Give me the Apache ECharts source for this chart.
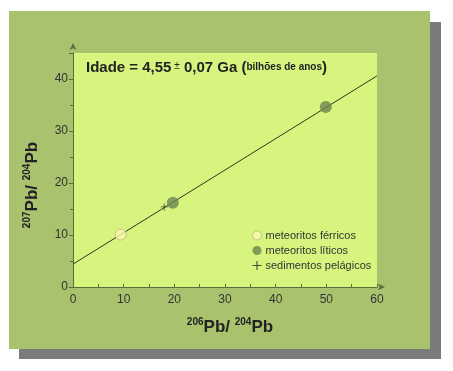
<!DOCTYPE html>
<html><head><meta charset="utf-8">
<script src="https://cdn.jsdelivr.net/npm/echarts@6/dist/echarts.min.js"></script>
<style>html,body{margin:0;padding:0;background:#fff;}#c{width:453px;height:371px;}</style>
</head><body><div id="c"></div>
<script>
const xTicks = [0, 10, 20, 30, 40, 50, 60];
const yTicks = [0, 10, 20, 30, 40];
const ferricosX = [9.4];
const ferricosY = [10.1];
const liticosX = [19.7, 49.9];
const liticosY = [16.2, 34.6];
const sedimentosX = [18.0];
const sedimentosY = [15.4];
const isochronX = [0, 60];
const isochronY = [4.4, 40.6];
const legendNames = ['meteoritos férricos', 'meteoritos líticos', 'sedimentos pelágicos'];

const zip = (a, b) => a.map((v, i) => [v, b[i]]);
const chart = echarts.init(document.getElementById('c'), null, {renderer: 'canvas'});
const FONT = '"Liberation Sans", Arial, sans-serif';
const axisCol = '#56703a';
const plus = 'path://M4.4,0H5.6V4.4H10V5.6H5.6V10H4.4V5.6H0V4.4H4.4Z';

chart.setOption({
  animation: false,
  textStyle: {fontFamily: FONT},
  graphic: [
    {type: 'rect', shape: {x: 19, y: 22, width: 422, height: 337}, style: {fill: '#7b7b7b'}, z: -10},
    {type: 'rect', shape: {x: 9, y: 11, width: 421, height: 338}, style: {fill: '#a9c26d'}, z: -9},
    {type: 'text', left: 86, top: 60, z: 10, style: {
      text: '{b|Idade = 4,55}{pm| ±}{b| 0,07 Ga }{b|(}{s|bilhões de anos}{b|)}',
      rich: {
        b: {fontSize: 15, fontWeight: 'bold', fill: '#222', fontFamily: FONT},
        pm: {fontSize: 10, fill: '#222', fontFamily: FONT, padding: [0, 0, 3, 0]},
        s: {fontSize: 10, fontWeight: 'bold', fill: '#222', fontFamily: FONT}
      }
    }}
  ],
  grid: {left: 73, right: 76, top: 53, bottom: 84, show: true, backgroundColor: '#d6f47e', borderWidth: 0},
  legend: {
    orient: 'vertical', left: 247, top: 225, itemGap: 4, itemWidth: 9, itemHeight: 10,
    data: [
      {name: legendNames[0], icon: 'circle', itemStyle: {color: '#fbf8b0', borderColor: '#b8b57c', borderWidth: 1}},
      {name: legendNames[1], icon: 'circle', itemStyle: {color: '#6c8550'}},
      {name: legendNames[2], icon: plus, itemStyle: {color: '#222'}}
    ],
    textStyle: {fontSize: 11, color: '#333', fontFamily: FONT, padding: [0, 0, 0, -1]}
  },
  xAxis: {
    type: 'value', min: xTicks[0], max: xTicks[xTicks.length - 1], interval: 10,
    splitLine: {show: false},
    axisLine: {show: true, lineStyle: {color: axisCol, width: 1}, symbol: ['none', 'arrow'], symbolSize: [5, 7], symbolOffset: [0, 8]},
    axisTick: {show: true, inside: true, length: 3, lineStyle: {color: axisCol}},
    minorTick: {show: true, splitNumber: 2, length: 3, lineStyle: {color: axisCol}},
    axisLabel: {fontSize: 12, color: '#333', margin: 7},
    name: '{sup|206}{m|Pb/ }{sup|204}{m|Pb}', nameLocation: 'middle', nameGap: 30,
    nameTextStyle: {padding: [0, 0, 0, 10], rich: {
      sup: {fontSize: 10, fontWeight: 'bold', color: '#222', verticalAlign: 'bottom', padding: [0, 0, 9, 0]},
      m: {fontSize: 17, fontWeight: 'bold', color: '#222', verticalAlign: 'bottom'}
    }}
  },
  yAxis: {
    type: 'value', min: yTicks[0], max: 45, interval: 10,
    splitLine: {show: false},
    axisLine: {show: true, lineStyle: {color: axisCol, width: 1}, symbol: ['none', 'arrow'], symbolSize: [5, 7], symbolOffset: [0, 10]},
    axisTick: {show: true, inside: false, length: 4, lineStyle: {color: axisCol}},
    minorTick: {show: true, splitNumber: 2, length: 3, lineStyle: {color: axisCol}},
    axisLabel: {fontSize: 12, color: '#333', margin: 5, formatter: v => yTicks.includes(v) ? String(v) : ''},
    name: '{sup|207}{m|Pb/ }{sup|204}{m|Pb}', nameLocation: 'middle', nameGap: 32, nameRotate: 90,
    nameTextStyle: {padding: [0, 30, 0, 0], rich: {
      sup: {fontSize: 10, fontWeight: 'bold', color: '#222', verticalAlign: 'bottom', padding: [0, 0, 9, 0]},
      m: {fontSize: 17, fontWeight: 'bold', color: '#222', verticalAlign: 'bottom'}
    }}
  },
  series: [
    {type: 'line', data: zip(isochronX, isochronY), showSymbol: false, symbol: 'none',
     lineStyle: {color: '#2b3a1c', width: 1}, z: 1, silent: true},
    {name: legendNames[0], type: 'scatter', data: zip(ferricosX, ferricosY), symbol: 'circle', symbolSize: 11,
     itemStyle: {color: '#fbf8b0', borderColor: '#b8b57c', borderWidth: 1}, z: 3},
    {name: legendNames[1], type: 'scatter', data: zip(liticosX, liticosY), symbol: 'circle', symbolSize: 12,
     itemStyle: {color: '#6c8550'}, z: 3},
    {name: legendNames[2], type: 'scatter', data: zip(sedimentosX, sedimentosY), symbol: plus, symbolSize: 7,
     itemStyle: {color: '#222'}, z: 3}
  ]
});
</script></body></html>
